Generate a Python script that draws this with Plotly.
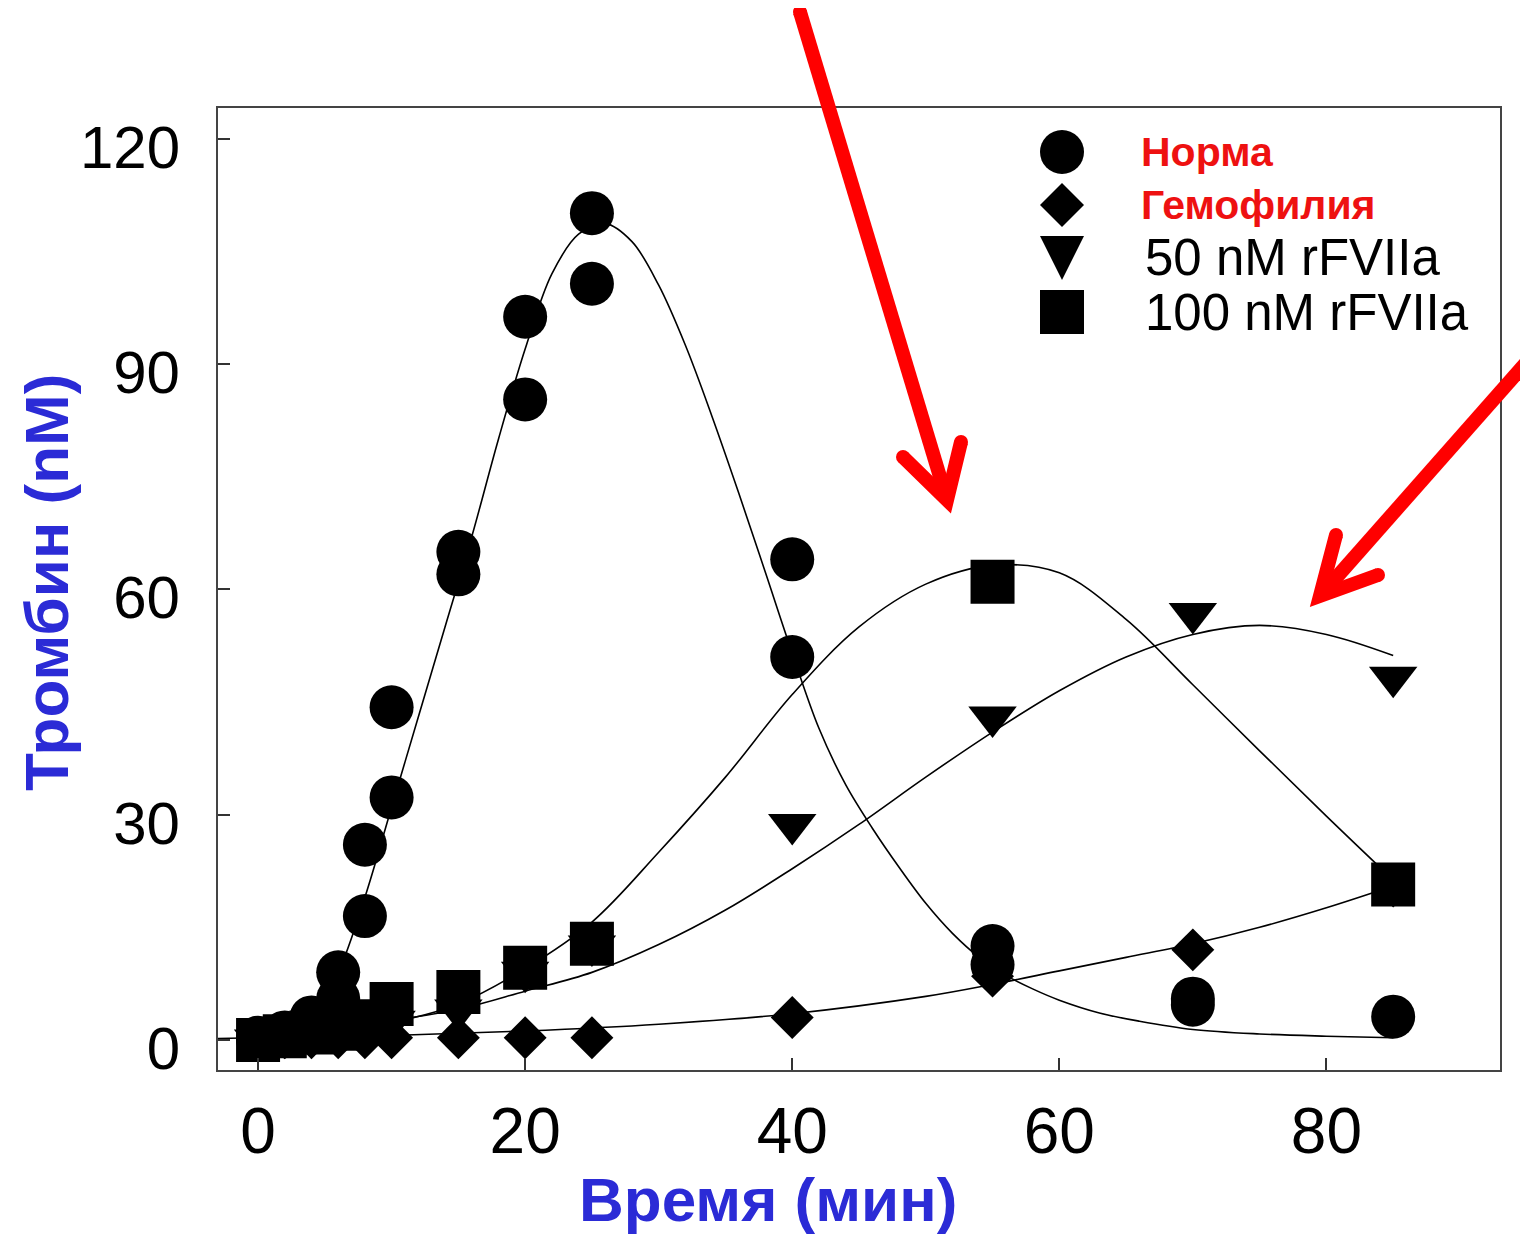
import plotly.graph_objects as go

# ---------------- data ----------------
# measured points
t_norm = [0, 0, 2, 2, 4, 4, 6, 6, 8, 8, 10, 10, 15, 15, 20, 20, 25, 25, 40, 40, 55, 55, 70, 70, 85]
y_norm = [0, 0.3, 0.5, 1, 2, 3, 9, 5.5, 26, 16.5, 44.3, 32.3, 65, 62, 96.3, 85.3, 110.1, 100.7, 64, 51, 12.5, 10, 5.5, 4.7, 3.1]

t_hemo = [0, 2, 4, 6, 8, 10, 15, 20, 25, 40, 55, 70, 85]
y_hemo = [0.3, 0.3, 0.3, 0.3, 0.3, 0.3, 0.3, 0.3, 0.3, 3, 8.5, 12, 20.5]

t_50 = [0, 2, 4, 6, 8, 10, 15, 20, 25, 40, 55, 70, 85]
y_50 = [0, 0.3, 0.8, 1.2, 2, 2.5, 4, 9, 12.5, 28.7, 43, 56.8, 48.3]

t_100 = [0, 2, 4, 6, 8, 10, 15, 20, 25, 55, 85]
y_100 = [0, 0.5, 1, 1.5, 2.5, 4.8, 6.4, 9.6, 12.8, 61, 20.7]

# fitted curves
fit_t_norm = [0, 2, 4, 6, 8, 10, 12, 14, 16, 18, 20, 22, 24, 26, 28, 30, 32, 34, 36, 38, 40,
              42, 44, 46, 48, 50, 52, 54, 56, 58, 60, 63, 66, 70, 75, 80, 85]
fit_y_norm = [0, 0.5, 3, 9, 19, 31, 43, 55, 67, 80, 92, 102, 107.3, 108.7, 106.3, 100.5, 92.5, 83, 72.8, 62.2, 51.5,
              41.5, 34, 28.2, 23, 18.2, 14.2, 11, 8.6, 6.8, 5.3, 3.6, 2.5, 1.4, 0.8, 0.5, 0.3]

fit_t_hemo = [-3, 0, 10, 20, 30, 40, 50, 55, 60, 65, 70, 75, 80, 85]
fit_y_hemo = [0.2, 0.3, 0.6, 1.2, 2.1, 3.5, 5.8, 7.4, 9.2, 11, 12.8, 15, 17.6, 20.5]

fit_t_50 = [0, 5, 10, 15, 20, 25, 30, 35, 40, 45, 50, 55, 60, 65, 70, 75, 80, 85]
fit_y_50 = [0.5, 1.5, 2.6, 4.1, 6.5, 9, 12.7, 17.3, 22.8, 28.7, 35, 41, 46.5, 51, 54, 55.2, 54, 51.2]

fit_t_100 = [0, 5, 10, 15, 20, 25, 30, 35, 40, 45, 50, 55, 60, 65, 70, 75, 80, 85]
fit_y_100 = [0.3, 1, 2.3, 4.8, 9.5, 15.7, 25, 35, 46, 55, 60.7, 63.2, 62.2, 56, 47.3, 38.5, 29.8, 21.3]

x_ticks = [0, 20, 40, 60, 80]
y_ticks = [0, 30, 60, 90, 120]

legend_labels = ["Норма", "Гемофилия", "50 nM rFVIIa", "100 nM rFVIIa"]
x_title = "Время (мин)"
y_title = "Тромбин (nM)"

# ---------------- layout helpers ----------------
OFF = 8  # page body margin of the html page
W, H = 1528 - OFF, 1235 - OFF
PL, PR, PT, PB = 218, 1500, 108, 1070  # plot area in reference pixels


def px(x):
    return (x - PL) / (PR - PL)


def py(y):
    return (PB - y) / (PB - PT)


FONT = "Arial, Liberation Sans, sans-serif"
RED_TXT = "#EE1111"
RED = "#FF0000"
BLUE = "#2B2BD6"

fig = go.Figure()

# fitted curves
for ft, fy in [(fit_t_norm, fit_y_norm), (fit_t_hemo, fit_y_hemo),
               (fit_t_50, fit_y_50), (fit_t_100, fit_y_100)]:
    fig.add_trace(go.Scatter(x=ft, y=fy, mode="lines",
                             line=dict(color="black", width=1.6, shape="spline", smoothing=1.0),
                             showlegend=False, hoverinfo="skip"))

# data points
fig.add_trace(go.Scatter(x=t_hemo, y=y_hemo, mode="markers", name=legend_labels[1],
                         marker=dict(symbol="diamond", size=33, color="black", line=dict(width=0)),
                         showlegend=False, cliponaxis=False))
fig.add_trace(go.Scatter(x=t_50, y=y_50, mode="markers", name=legend_labels[2],
                         marker=dict(symbol="triangle-down", size=42, color="black", line=dict(width=0)),
                         showlegend=False, cliponaxis=False))
fig.add_trace(go.Scatter(x=t_norm, y=y_norm, mode="markers", name=legend_labels[0],
                         marker=dict(symbol="circle", size=44, color="black", line=dict(width=0)),
                         showlegend=False, cliponaxis=False))
fig.add_trace(go.Scatter(x=t_100, y=y_100, mode="markers", name=legend_labels[3],
                         marker=dict(symbol="square", size=44, color="black", line=dict(width=0)),
                         showlegend=False, cliponaxis=False))

shapes = []
annotations = []

# ---- custom legend ----
leg_sym_x = 1062
leg_rows_y = [152, 205, 258, 312]
leg_txt_x = [1139, 1139, 1143, 1143]
leg_colors = [RED_TXT, RED_TXT, "black", "black"]
leg_sizes = [41, 41, 51, 51]
leg_bold = [True, True, False, False]

sym_paths = [
    None,  # circle
    "M0,22 L22,0 L0,-22 L-22,0 Z",  # diamond
    "M-22,22 L22,22 L0,-22 Z",  # triangle down
    "M-22,22 L22,22 L22,-22 L-22,-22 Z",  # square
]
for i, yy in enumerate(leg_rows_y):
    common = dict(xref="paper", yref="paper", xsizemode="pixel", ysizemode="pixel",
                  xanchor=px(leg_sym_x), yanchor=py(yy),
                  fillcolor="black", line=dict(width=0), layer="above")
    if i == 0:
        shapes.append(dict(type="circle", x0=-22, x1=22, y0=-22, y1=22, **common))
    else:
        shapes.append(dict(type="path", path=sym_paths[i], **common))
    txt = legend_labels[i]
    if leg_bold[i]:
        txt = "<b>" + txt + "</b>"
    annotations.append(dict(xref="paper", yref="paper", x=px(leg_txt_x[i]), y=py(yy),
                            xanchor="left", yanchor="middle", showarrow=False, text=txt,
                            font=dict(family=FONT, size=leg_sizes[i], color=leg_colors[i])))

# ---- red arrows ----
def pth(points):
    s = ""
    for k, (a, b) in enumerate(points):
        s += ("M" if k == 0 else " L") + f"{px(a):.5f},{py(b):.5f}"
    return s


arrow_paths = [
    [(800, 12), (947, 500)],
    [(903, 457), (947, 500), (961, 442)],
    [(1548, 338), (1320, 596)],
    [(1336, 535), (1320, 596), (1378, 575)],
]
for p in arrow_paths:
    shapes.append(dict(type="path", xref="paper", yref="paper", path=pth(p),
                       line=dict(color=RED, width=14), layer="above"))
# round caps
for (a, b) in [(800, 12), (903, 457), (961, 442), (1336, 535), (1378, 575)]:
    shapes.append(dict(type="circle", xref="paper", yref="paper", xsizemode="pixel", ysizemode="pixel",
                       xanchor=px(a), yanchor=py(b), x0=-7, x1=7, y0=-7, y1=7,
                       fillcolor=RED, line=dict(width=0), layer="above"))

# ---- axis titles ----
annotations.append(dict(xref="paper", yref="paper", x=px(768), y=py(1199), xanchor="center", yanchor="middle",
                        showarrow=False, text="<b>" + x_title + "</b>",
                        font=dict(family=FONT, size=62, color=BLUE)))
annotations.append(dict(xref="paper", yref="paper", x=px(46), y=py(583), xanchor="center", yanchor="middle",
                        showarrow=False, text="<b>" + y_title + "</b>", textangle=-90,
                        font=dict(family=FONT, size=62, color=BLUE)))

axis_common = dict(showgrid=False, zeroline=False, showline=True, linewidth=2, linecolor="#444",
                   mirror=True, ticks="inside", ticklen=12, tickwidth=2, tickcolor="#333")

fig.update_layout(
    width=W, height=H,
    margin=dict(l=PL - OFF, r=W - (PR - OFF), t=PT - OFF, b=H - (PB - OFF), pad=0),
    paper_bgcolor="white", plot_bgcolor="white",
    showlegend=False,
    xaxis=dict(range=[-3, 93], tickvals=x_ticks, ticktext=[str(v) for v in x_ticks],
               tickfont=dict(family=FONT, size=64, color="black"), ticklabelstandoff=4, **axis_common),
    yaxis=dict(range=[-4, 124.1], tickvals=y_ticks, ticktext=[str(v) for v in y_ticks],
               tickfont=dict(family=FONT, size=60, color="black"), ticklabelstandoff=24,
               ticklabelshift=8, **axis_common),
    shapes=shapes,
    annotations=annotations,
)

fig.write_html("out.html")
